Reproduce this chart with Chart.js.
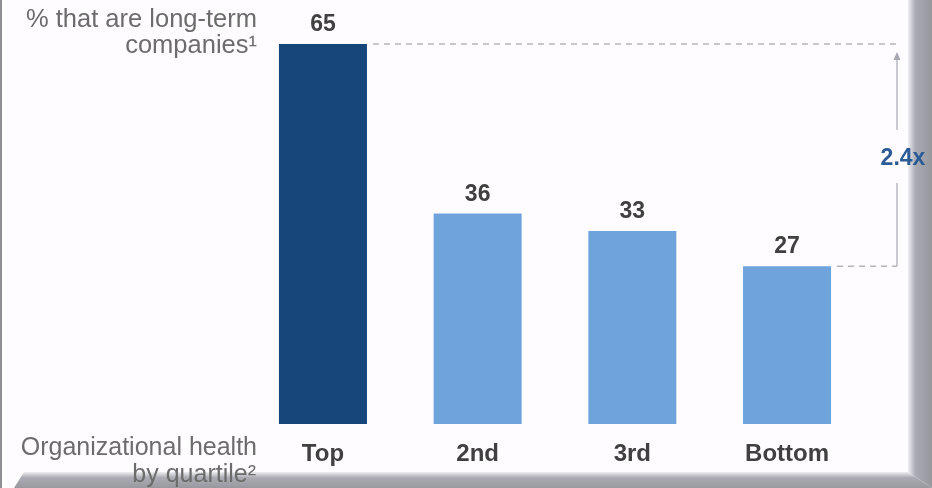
<!DOCTYPE html>
<html>
<head>
<meta charset="utf-8">
<script src="https://cdn.jsdelivr.net/npm/chart.js@4.4.1/dist/chart.umd.min.js"></script>
<style>
  html, body { margin: 0; padding: 0; background: #fefcfe; }
  #wrap { width: 932px; height: 488px; position: relative; }
  canvas { display: block; }
</style>
</head>
<body>
<div id="wrap"><canvas id="c" width="932" height="488"></canvas></div>
<script>
// Share of long-term companies by organizational-health quartile
const quartiles = ['Top', '2nd', '3rd', 'Bottom'];
const longTermShare = [65, 36, 33, 27];
const barColors = ['#16467a', '#6fa3dc', '#6fa3dc', '#6fa3dc'];
const yTitleLines = ['% that are long-term', 'companies\u00b9'];
const xTitleLines = ['Organizational health', 'by quartile\u00b2'];

const FONT = '"Liberation Sans", Arial, Helvetica, sans-serif';
const multiple = (longTermShare[0] / longTermShare[longTermShare.length - 1]).toFixed(1) + 'x';

const annotate = {
  id: 'annotate',
  beforeDraw(chart) {
    // bevelled frame around the slide
    const ctx = chart.ctx;
    const W = chart.width, H = chart.height;
    ctx.save();
    ctx.fillStyle = '#8e8e94';
    ctx.fillRect(0, 0, 2, H);

    const gr = ctx.createLinearGradient(908, 0, W, 0);
    gr.addColorStop(0, '#f0f0f4');
    gr.addColorStop(0.3, '#ababb3');
    gr.addColorStop(1, '#96969d');
    ctx.fillStyle = gr;
    ctx.beginPath();
    ctx.moveTo(908, 0);
    ctx.lineTo(W, 0);
    ctx.lineTo(W, H);
    ctx.lineTo(908, 472);
    ctx.closePath();
    ctx.fill();

    const gb = ctx.createLinearGradient(0, 472, 0, H);
    gb.addColorStop(0, '#eeeef2');
    gb.addColorStop(0.35, '#ababb3');
    gb.addColorStop(1, '#98989f');
    ctx.fillStyle = gb;
    ctx.beginPath();
    ctx.moveTo(24, 472);
    ctx.lineTo(908, 472);
    ctx.lineTo(W, H);
    ctx.lineTo(14, H);
    ctx.closePath();
    ctx.fill();
    ctx.restore();
  },
  afterDatasetsDraw(chart) {
    const ctx = chart.ctx;
    const y = chart.scales.y;
    const meta = chart.getDatasetMeta(0);
    ctx.save();

    // value labels above each bar
    ctx.fillStyle = '#404040';
    ctx.font = 'bold 23px ' + FONT;
    ctx.textAlign = 'center';
    ctx.textBaseline = 'alphabetic';
    meta.data.forEach((bar, i) => {
      ctx.fillText(String(longTermShare[i]), bar.x, bar.y - 13);
    });

    // quartile labels under the bars
    ctx.font = 'bold 24px ' + FONT;
    meta.data.forEach((bar, i) => {
      ctx.fillText(quartiles[i], bar.x, 461);
    });

    // axis captions on the left
    ctx.fillStyle = '#6c6c6c';
    ctx.font = '25.5px ' + FONT;
    ctx.textAlign = 'right';
    ctx.fillText(yTitleLines[0], 257, 27);
    ctx.fillText(yTitleLines[1], 257, 53);
    ctx.font = '25px ' + FONT;
    ctx.fillText(xTitleLines[0], 257, 455);
    ctx.fillText(xTitleLines[1], 256, 482);

    // dashed guides from the top and bottom bars
    const first = meta.data[0];
    const last = meta.data[meta.data.length - 1];
    const arrowX = 897;
    const yTop = y.getPixelForValue(longTermShare[0]);
    const yLow = y.getPixelForValue(longTermShare[longTermShare.length - 1]);
    ctx.strokeStyle = '#b4b4bc';
    ctx.lineWidth = 1.5;
    ctx.setLineDash([6, 5]);
    ctx.beginPath();
    ctx.moveTo(first.x + first.width / 2 + 6, yTop);
    ctx.lineTo(arrowX, yTop);
    ctx.moveTo(last.x + last.width / 2 + 6, yLow);
    ctx.lineTo(arrowX, yLow);
    ctx.stroke();

    // vertical arrow with the multiple in the gap
    ctx.setLineDash([]);
    ctx.strokeStyle = '#b8b8c2';
    ctx.lineWidth = 1.5;
    const midY = 158;
    ctx.beginPath();
    ctx.moveTo(arrowX, yLow);
    ctx.lineTo(arrowX, midY + 25);
    ctx.moveTo(arrowX, midY - 28);
    ctx.lineTo(arrowX, yTop + 12);
    ctx.stroke();
    ctx.fillStyle = '#a8a8b2';
    ctx.beginPath();
    ctx.moveTo(arrowX, yTop + 8);
    ctx.lineTo(arrowX - 3.5, yTop + 16);
    ctx.lineTo(arrowX + 3.5, yTop + 16);
    ctx.closePath();
    ctx.fill();

    ctx.fillStyle = '#2b5b96';
    ctx.font = 'bold 23px ' + FONT;
    ctx.textAlign = 'center';
    ctx.textBaseline = 'middle';
    ctx.fillText(multiple, arrowX + 6, midY + 1);
    ctx.restore();
  }
};

new Chart(document.getElementById('c'), {
  type: 'bar',
  data: {
    labels: quartiles,
    datasets: [{
      data: longTermShare,
      backgroundColor: barColors,
      borderWidth: 0,
      categoryPercentage: 1,
      barPercentage: 0.569
    }]
  },
  options: {
    responsive: false,
    devicePixelRatio: 1,
    animation: false,
    layout: { padding: { left: 245.6, right: 67.6, top: 44, bottom: 64 } },
    plugins: { legend: { display: false }, tooltip: { enabled: false } },
    scales: {
      x: { display: false },
      y: { display: false, min: 0, max: Math.max(...longTermShare) }
    }
  },
  plugins: [annotate]
});
</script>
</body>
</html>
